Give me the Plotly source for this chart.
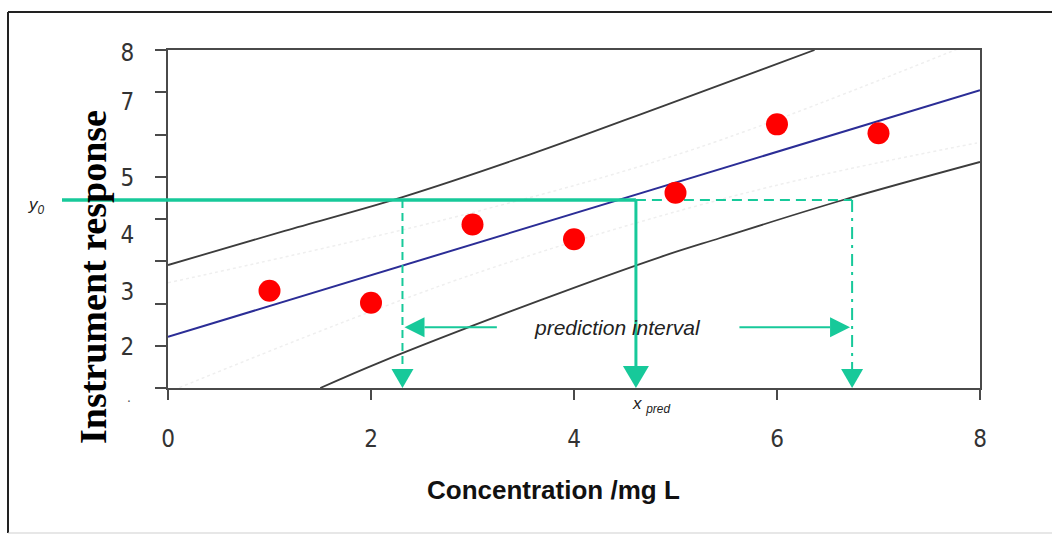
import plotly.graph_objects as go

# ---------------- data ----------------
conc = [1, 2, 3, 4, 5, 6, 7]
response = [2.30, 2.02, 3.87, 3.52, 4.62, 6.24, 6.03]

fit_x = [0, 8]
fit_y = [1.21, 7.05]

upper_pi_x = [0, 1.15, 2.31, 3.57, 4.85, 6.37]
upper_pi_y = [2.91, 3.72, 4.52, 5.53, 6.65, 8.0]

lower_pi_x = [1.50, 2.10, 3.67, 4.85, 5.44, 6.65, 8.0]
lower_pi_y = [0.0, 0.62, 2.08, 3.10, 3.55, 4.45, 5.35]

upper_ci_x = [0, 2.98, 5.24, 8.0]
upper_ci_y = [2.49, 4.14, 5.70, 8.24]
lower_ci_x = [0, 2.98, 5.73, 7.97]
lower_ci_y = [-0.10, 2.67, 4.64, 5.80]

y0_value = 4.45
x_interval = [2.31, 4.61, 6.74]      # lower limit, x_pred, upper limit
arrow_y = 1.44
arrow_left = [3.24, 2.33]            # tail, tip
arrow_right = [5.63, 6.72]           # tail, tip
interval_label_x = 4.43

x_ticks = [0, 2, 4, 6, 8]
y_tick_text = ["8", "7", "5", "4", "3", "2"]
y_tick_pos = [7.95, 6.77, 4.97, 3.62, 2.27, 0.97]
y_minor_ticks = [0, 1, 2, 3, 4, 5, 6, 7, 8]

# ---------------- layout constants ----------------
W, H = 1052, 534
L, R, T, B = 168, 72, 50, 146
PW, PH = W - L - R, H - T - B
X_RANGE = [0, 8]
Y_RANGE = [0, 8]
UX = (X_RANGE[1] - X_RANGE[0]) / PW   # data units per pixel
UY = (Y_RANGE[1] - Y_RANGE[0]) / PH

GREEN = "#17C99A"
AXIS = "#4a4a4a"
TICKFONT = dict(family="Liberation Sans Narrow, DejaVu Sans Condensed, Liberation Sans, Arial",
                size=24, color="#333")


def px_x(p):
    return (p - L) / PW


def px_y(p):
    return (H - B - p) / PH


def tri_down(xt, yt, w, h):
    return (f"M {xt - w / 2 * UX},{yt + h * UY} L {xt + w / 2 * UX},{yt + h * UY} "
            f"L {xt},{yt} Z")


def tri_horiz(xt, yt, direction, length, h):
    xb = xt - direction * length * UX
    return (f"M {xb},{yt - h / 2 * UY} L {xb},{yt + h / 2 * UY} L {xt},{yt} Z")


fig = go.Figure()

# faint confidence band
for cx, cy in [(upper_ci_x, upper_ci_y), (lower_ci_x, lower_ci_y)]:
    fig.add_trace(go.Scatter(x=cx, y=cy, mode="lines", line_shape="spline",
                             line=dict(color="#efefef", width=1.5, dash="dot"),
                             hoverinfo="skip", showlegend=False))

# prediction band
fig.add_trace(go.Scatter(x=upper_pi_x, y=upper_pi_y, mode="lines", line_shape="spline",
                         line=dict(color="#3c3c3c", width=1.8), showlegend=False))
fig.add_trace(go.Scatter(x=lower_pi_x, y=lower_pi_y, mode="lines", line_shape="spline",
                         line=dict(color="#3c3c3c", width=1.8), showlegend=False))

# regression line
fig.add_trace(go.Scatter(x=fit_x, y=fit_y, mode="lines",
                         line=dict(color="#2B2D96", width=2), showlegend=False))

# green guide lines
x_lo, x_pred, x_hi = x_interval
SMALL_W, SMALL_H = 22, 19
BIG_W, BIG_H = 26, 22
fig.add_trace(go.Scatter(x=[x_pred, x_hi], y=[y0_value, y0_value], mode="lines",
                         line=dict(color=GREEN, width=2, dash="10px,6px"), showlegend=False))
fig.add_trace(go.Scatter(x=[x_lo, x_lo], y=[y0_value, SMALL_H * UY], mode="lines",
                         line=dict(color=GREEN, width=2, dash="8px,5px"), showlegend=False))
fig.add_trace(go.Scatter(x=[x_hi, x_hi], y=[y0_value, SMALL_H * UY], mode="lines",
                         line=dict(color=GREEN, width=2, dash="12px,6px,3px,6px"),
                         showlegend=False))
fig.add_trace(go.Scatter(x=[x_pred, x_pred], y=[y0_value, BIG_H * UY], mode="lines",
                         line=dict(color=GREEN, width=3), showlegend=False))
HEAD_LEN, HEAD_H = 20, 20
for tail, tip in (arrow_left, arrow_right):
    direction = 1 if tip > tail else -1
    fig.add_trace(go.Scatter(x=[tail, tip - direction * HEAD_LEN * UX], y=[arrow_y, arrow_y],
                             mode="lines", line=dict(color=GREEN, width=2), showlegend=False))

# data points
fig.add_trace(go.Scatter(x=conc, y=response, mode="markers",
                         marker=dict(color="#FF0000", size=22, line=dict(width=0)),
                         showlegend=False))

shapes = []
# arrow heads
for xv in (x_lo, x_hi):
    shapes.append(dict(type="path", xref="x", yref="y", path=tri_down(xv, 0, SMALL_W, SMALL_H),
                       fillcolor=GREEN, line=dict(width=0), layer="above"))
shapes.append(dict(type="path", xref="x", yref="y", path=tri_down(x_pred, 0, BIG_W, BIG_H),
                   fillcolor=GREEN, line=dict(width=0), layer="above"))
for tail, tip in (arrow_left, arrow_right):
    direction = 1 if tip > tail else -1
    shapes.append(dict(type="path", xref="x", yref="y",
                       path=tri_horiz(tip, arrow_y, direction, HEAD_LEN, HEAD_H),
                       fillcolor=GREEN, line=dict(width=0), layer="above"))
# solid y0 line (extends into left margin)
y0_paper = (y0_value - Y_RANGE[0]) / (Y_RANGE[1] - Y_RANGE[0])
shapes.append(dict(type="line", xref="paper", yref="paper",
                   x0=px_x(62), x1=(x_pred - X_RANGE[0]) / (X_RANGE[1] - X_RANGE[0]),
                   y0=y0_paper, y1=y0_paper,
                   line=dict(color=GREEN, width=3.5), layer="above"))
# outer frame
shapes.append(dict(type="line", xref="paper", yref="paper", x0=px_x(8), x1=px_x(8),
                   y0=px_y(12), y1=px_y(533), line=dict(color="#222", width=2)))
shapes.append(dict(type="line", xref="paper", yref="paper", x0=px_x(8), x1=px_x(1052),
                   y0=px_y(12), y1=px_y(12), line=dict(color="#222", width=2)))
shapes.append(dict(type="line", xref="paper", yref="paper", x0=px_x(8), x1=px_x(1052),
                   y0=px_y(533), y1=px_y(533), line=dict(color="#cfcfcf", width=1)))

annotations = []
annotations.append(dict(x=interval_label_x, y=arrow_y, xref="x", yref="y",
                        xanchor="center", yanchor="middle",
                        text="<i>prediction interval</i>", showarrow=False,
                        font=dict(family="Liberation Sans, Arial", size=21, color="#222")))
annotations.append(dict(x=px_x(36), y=y0_value, xref="paper", yref="y", yshift=-6,
                        xanchor="center", yanchor="middle",
                        text="<i>y<sub>0</sub></i>", showarrow=False,
                        font=dict(family="Liberation Sans, Arial", size=17, color="#222")))
annotations.append(dict(x=x_pred, y=0, xref="x", yref="y", xanchor="left", yanchor="top",
                        xshift=-6, yshift=-4,
                        text="<i>x</i> <sub><i>pred</i></sub>", showarrow=False,
                        font=dict(family="Liberation Sans, Arial", size=17, color="#222")))
annotations.append(dict(x=px_x(129), y=px_y(397), xref="paper", yref="paper",
                        xanchor="center", yanchor="middle",
                        text=".", showarrow=False,
                        font=dict(family="Liberation Sans, Arial", size=14, color="#555")))
# axis titles
annotations.append(dict(x=px_x(93), y=px_y(277), xref="paper", yref="paper",
                        text="<b>Instrument response</b>", textangle=-90, showarrow=False,
                        xanchor="center", yanchor="middle",
                        font=dict(family="Liberation Serif, Times New Roman, serif",
                                  size=38, color="#000")))
annotations.append(dict(x=px_x(553), y=px_y(490), xref="paper", yref="paper",
                        text="<b>Concentration /mg L</b>", showarrow=False,
                        xanchor="center", yanchor="middle",
                        font=dict(family="Liberation Sans, Arial", size=26, color="#111")))

fig.update_layout(
    width=W, height=H,
    margin=dict(l=L, r=R, t=T, b=B, pad=0),
    paper_bgcolor="white", plot_bgcolor="white",
    shapes=shapes, annotations=annotations,
    xaxis=dict(range=X_RANGE, tickmode="array", tickvals=x_ticks,
               ticks="outside", ticklen=10, tickwidth=2, tickcolor=AXIS,
               showline=True, linecolor=AXIS, linewidth=2, mirror=True,
               showgrid=False, zeroline=False, tickfont=TICKFONT,
               ticklabelstandoff=18),
    yaxis=dict(range=Y_RANGE, tickmode="array", tickvals=y_tick_pos, ticktext=y_tick_text,
               ticks="", showline=True, linecolor=AXIS, linewidth=2, mirror=True,
               showgrid=False, zeroline=False, tickfont=TICKFONT,
               ticklabelstandoff=27,
               minor=dict(tickmode="array", tickvals=y_minor_ticks, ticks="outside",
                          ticklen=11, tickwidth=2, tickcolor=AXIS, showgrid=False)),
)

fig.write_html("out.html")
